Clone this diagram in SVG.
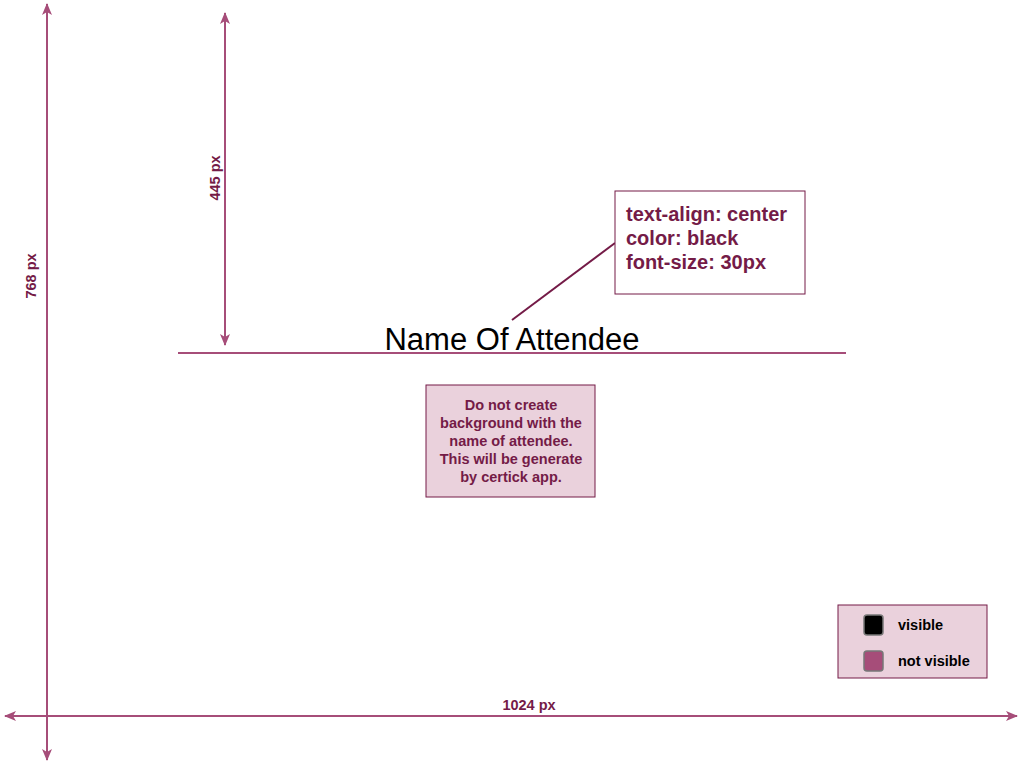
<svg xmlns="http://www.w3.org/2000/svg" width="1024" height="768" viewBox="0 0 1024 768">
<defs>
<marker id="ah" viewBox="0 0 12 10" refX="11" refY="5" markerWidth="12" markerHeight="10" markerUnits="userSpaceOnUse" orient="auto-start-reverse">
<path d="M0,0 L12,5 L0,10 L3,5 Z" fill="#a64d79"/>
</marker>
</defs>
<style>
.dim{stroke:#a64d79;stroke-width:2;fill:none}
.lbl{font-family:"Liberation Sans",Arial,sans-serif;font-weight:bold;fill:#741b47}
.note{font-family:"Liberation Sans",Arial,sans-serif;font-weight:bold;font-size:14.5px;fill:#741b47;text-anchor:middle}
.leg{font-family:"Liberation Sans",Arial,sans-serif;font-weight:bold;font-size:14.5px;fill:#000}
</style>
<rect width="1024" height="768" fill="#fff"/>
<g id="connectors">
<line class="dim" x1="47" y1="4" x2="47" y2="760" marker-start="url(#ah)" marker-end="url(#ah)"/>
<line class="dim" x1="5" y1="716" x2="1017" y2="716" marker-start="url(#ah)" marker-end="url(#ah)"/>
<line class="dim" x1="225" y1="13" x2="225" y2="345" marker-start="url(#ah)" marker-end="url(#ah)"/>
<line class="dim" x1="178" y1="353" x2="846" y2="353"/>
<line x1="615" y1="243" x2="512" y2="320" stroke="#741b47" stroke-width="2"/>
</g>
<g id="dim-labels">
<text class="lbl" font-size="14.5" transform="translate(36,276) rotate(-90)" text-anchor="middle">768 px</text>
<text class="lbl" font-size="14.5" transform="translate(220,178) rotate(-90)" text-anchor="middle">445 px</text>
<text class="lbl" font-size="14.5" x="529" y="710" text-anchor="middle">1024 px</text>
</g>
<g id="name">
<text x="512" y="350" font-family="'Liberation Sans',Arial,sans-serif" font-size="31" fill="#000" text-anchor="middle">Name Of Attendee</text>
</g>
<g id="callout">
<rect x="615" y="191" width="190" height="103" fill="#fff" stroke="#741b47" stroke-width="1"/>
<text class="lbl" font-size="20" x="626" y="221">text-align: center</text>
<text class="lbl" font-size="20" x="626" y="245">color: black</text>
<text class="lbl" font-size="20" x="626" y="269">font-size: 30px</text>
</g>
<g id="note">
<rect x="426" y="385" width="169" height="112" fill="#ead1dc" stroke="#741b47" stroke-width="1"/>
<text class="note" x="511" y="410">Do not create</text>
<text class="note" x="511" y="428">background with the</text>
<text class="note" x="511" y="446">name of attendee.</text>
<text class="note" x="511" y="464">This will be generate</text>
<text class="note" x="511" y="482">by certick app.</text>
</g>
<g id="legend">
<rect x="838" y="605" width="149" height="73" fill="#ead1dc" stroke="#741b47" stroke-width="1"/>
<rect x="864" y="615" width="19" height="20" rx="3" fill="#000" stroke="#777" stroke-width="1.5"/>
<rect x="864" y="651" width="19" height="20" rx="3" fill="#a64d79" stroke="#777" stroke-width="1.5"/>
<text class="leg" x="898" y="630">visible</text>
<text class="leg" x="898" y="666">not visible</text>
</g>
</svg>
